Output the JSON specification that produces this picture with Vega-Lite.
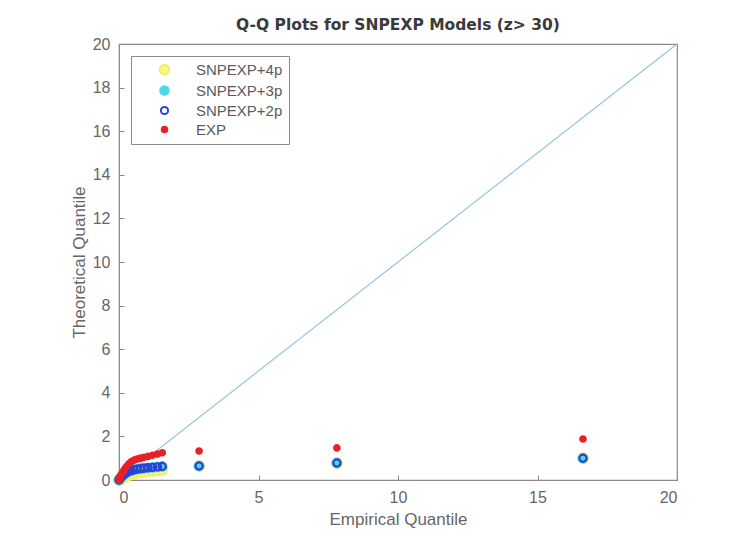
{
  "$schema": "https://vega.github.io/schema/vega-lite/v6.json",
  "width": 558,
  "height": 436,
  "autosize": "none",
  "padding": {"left": 119, "top": 44, "right": 74, "bottom": 62},
  "background": "white",
  "config": {
    "font": "Liberation Sans",
    "view": {"stroke": "#8a8a8a", "strokeWidth": 1.2},
    "axis": {
      "grid": false,
      "domainColor": "#8a8a8a",
      "tickColor": "#8a8a8a",
      "labelColor": "#666666",
      "titleColor": "#666666",
      "labelFontSize": 16,
      "titleFontSize": 17,
      "titleFontWeight": "normal",
      "labelFont": "Liberation Sans",
      "titleFont": "Liberation Sans"
    }
  },
  "title": {
    "text": "Q-Q Plots for SNPEXP Models (z> 30)",
    "font": "DejaVu Sans",
    "fontSize": 15.5,
    "fontWeight": "bold",
    "color": "#3a3a3a",
    "offset": 3,
    "anchor": "middle"
  },
  "datasets": {
    "diag": [{"x": 0, "y": 0}, {"x": 20, "y": 20}],
    "pts": [
      {"s": "SNPEXP+4p", "x": 0.0, "y": 0.0},
      {"s": "SNPEXP+4p", "x": 0.02, "y": 0.02},
      {"s": "SNPEXP+4p", "x": 0.05, "y": 0.05},
      {"s": "SNPEXP+4p", "x": 0.09, "y": 0.08},
      {"s": "SNPEXP+4p", "x": 0.14, "y": 0.11},
      {"s": "SNPEXP+4p", "x": 0.2, "y": 0.15},
      {"s": "SNPEXP+4p", "x": 0.27, "y": 0.19},
      {"s": "SNPEXP+4p", "x": 0.35, "y": 0.23},
      {"s": "SNPEXP+4p", "x": 0.44, "y": 0.27},
      {"s": "SNPEXP+4p", "x": 0.54, "y": 0.3},
      {"s": "SNPEXP+4p", "x": 0.65, "y": 0.33},
      {"s": "SNPEXP+4p", "x": 0.77, "y": 0.36},
      {"s": "SNPEXP+4p", "x": 0.9, "y": 0.38},
      {"s": "SNPEXP+4p", "x": 1.04, "y": 0.4},
      {"s": "SNPEXP+4p", "x": 1.2, "y": 0.42},
      {"s": "SNPEXP+4p", "x": 1.38, "y": 0.44},
      {"s": "SNPEXP+4p", "x": 1.55, "y": 0.46},
      {"s": "SNPEXP+4p", "x": 2.87, "y": 0.64},
      {"s": "SNPEXP+4p", "x": 7.81, "y": 0.78},
      {"s": "SNPEXP+4p", "x": 16.63, "y": 1.0},
      {"s": "SNPEXP+3p", "x": 0.0, "y": 0.0},
      {"s": "SNPEXP+3p", "x": 0.02, "y": 0.04},
      {"s": "SNPEXP+3p", "x": 0.05, "y": 0.09},
      {"s": "SNPEXP+3p", "x": 0.09, "y": 0.15},
      {"s": "SNPEXP+3p", "x": 0.14, "y": 0.21},
      {"s": "SNPEXP+3p", "x": 0.2, "y": 0.28},
      {"s": "SNPEXP+3p", "x": 0.27, "y": 0.34},
      {"s": "SNPEXP+3p", "x": 0.35, "y": 0.39},
      {"s": "SNPEXP+3p", "x": 0.44, "y": 0.43},
      {"s": "SNPEXP+3p", "x": 0.54, "y": 0.47},
      {"s": "SNPEXP+3p", "x": 0.65, "y": 0.5},
      {"s": "SNPEXP+3p", "x": 0.77, "y": 0.52},
      {"s": "SNPEXP+3p", "x": 0.9, "y": 0.54},
      {"s": "SNPEXP+3p", "x": 1.04, "y": 0.56},
      {"s": "SNPEXP+3p", "x": 1.2, "y": 0.58},
      {"s": "SNPEXP+3p", "x": 1.38, "y": 0.6},
      {"s": "SNPEXP+3p", "x": 1.55, "y": 0.62},
      {"s": "SNPEXP+3p", "x": 2.87, "y": 0.64},
      {"s": "SNPEXP+3p", "x": 7.81, "y": 0.78},
      {"s": "SNPEXP+3p", "x": 16.63, "y": 1.0},
      {"s": "SNPEXP+2p", "x": 0.0, "y": 0.0},
      {"s": "SNPEXP+2p", "x": 0.02, "y": 0.04},
      {"s": "SNPEXP+2p", "x": 0.05, "y": 0.09},
      {"s": "SNPEXP+2p", "x": 0.09, "y": 0.15},
      {"s": "SNPEXP+2p", "x": 0.14, "y": 0.21},
      {"s": "SNPEXP+2p", "x": 0.2, "y": 0.28},
      {"s": "SNPEXP+2p", "x": 0.27, "y": 0.34},
      {"s": "SNPEXP+2p", "x": 0.35, "y": 0.39},
      {"s": "SNPEXP+2p", "x": 0.44, "y": 0.43},
      {"s": "SNPEXP+2p", "x": 0.54, "y": 0.47},
      {"s": "SNPEXP+2p", "x": 0.65, "y": 0.5},
      {"s": "SNPEXP+2p", "x": 0.77, "y": 0.52},
      {"s": "SNPEXP+2p", "x": 0.9, "y": 0.54},
      {"s": "SNPEXP+2p", "x": 1.04, "y": 0.56},
      {"s": "SNPEXP+2p", "x": 1.2, "y": 0.58},
      {"s": "SNPEXP+2p", "x": 1.38, "y": 0.6},
      {"s": "SNPEXP+2p", "x": 1.55, "y": 0.62},
      {"s": "SNPEXP+2p", "x": 2.87, "y": 0.64},
      {"s": "SNPEXP+2p", "x": 7.81, "y": 0.78},
      {"s": "SNPEXP+2p", "x": 16.63, "y": 1.0},
      {"s": "EXP", "x": 0.0, "y": 0.0},
      {"s": "EXP", "x": 0.02, "y": 0.08},
      {"s": "EXP", "x": 0.05, "y": 0.17},
      {"s": "EXP", "x": 0.09, "y": 0.27},
      {"s": "EXP", "x": 0.14, "y": 0.38},
      {"s": "EXP", "x": 0.2, "y": 0.5},
      {"s": "EXP", "x": 0.27, "y": 0.62},
      {"s": "EXP", "x": 0.35, "y": 0.74},
      {"s": "EXP", "x": 0.44, "y": 0.84},
      {"s": "EXP", "x": 0.54, "y": 0.91},
      {"s": "EXP", "x": 0.65, "y": 0.96},
      {"s": "EXP", "x": 0.77, "y": 1.0},
      {"s": "EXP", "x": 0.9, "y": 1.04},
      {"s": "EXP", "x": 1.04, "y": 1.08},
      {"s": "EXP", "x": 1.2, "y": 1.13},
      {"s": "EXP", "x": 1.38, "y": 1.19},
      {"s": "EXP", "x": 1.55, "y": 1.25},
      {"s": "EXP", "x": 2.87, "y": 1.33},
      {"s": "EXP", "x": 7.81, "y": 1.47},
      {"s": "EXP", "x": 16.63, "y": 1.88}
    ]
  },
  "layer": [
    {
      "data": {"name": "diag"},
      "mark": {"type": "line", "color": "#94c4e0", "strokeWidth": 1.2},
      "encoding": {
        "x": {"field": "x", "type": "quantitative"},
        "y": {"field": "y", "type": "quantitative"}
      }
    },
    {
      "data": {"name": "pts"},
      "mark": {"type": "point", "shape": "circle", "strokeWidth": 2.2, "opacity": 1},
      "encoding": {
        "x": {
          "field": "x", "type": "quantitative",
          "scale": {"domain": [0, 20], "nice": false},
          "axis": {"values": [0, 5, 10, 15, 20], "title": "Empirical Quantile", "tickSize": -5, "labelPadding": 14, "titlePadding": 6}
        },
        "y": {
          "field": "y", "type": "quantitative",
          "scale": {"domain": [0, 20], "nice": false},
          "axis": {"values": [0, 2, 4, 6, 8, 10, 12, 14, 16, 18, 20], "title": "Theoretical Quantile", "tickSize": -5, "labelPadding": 14, "titlePadding": 4}
        },
        "stroke": {
          "field": "s", "type": "nominal",
          "scale": {"domain": ["SNPEXP+4p", "SNPEXP+3p", "SNPEXP+2p", "EXP"], "range": ["#f3f060", "#4fd8e8", "#2f3fd6", "#e8202a"]},
          "legend": {
            "title": null,
            "orient": "top-left",
            "offset": 12,
            "padding": 6,
            "strokeColor": "#8a8a8a",
            "fillColor": "white",
            "symbolOffset": 20,
            "labelOffset": 24,
            "labelFontSize": 15,
            "labelColor": "#5a5a5a",
            "rowPadding": 3,
            "symbolStrokeWidth": 2
          }
        },
        "fill": {
          "field": "s", "type": "nominal",
          "scale": {"domain": ["SNPEXP+4p", "SNPEXP+3p", "SNPEXP+2p", "EXP"], "range": ["#f8f590", "#4fd8e8", "transparent", "#e8202a"]}
        },
        "size": {
          "field": "s", "type": "nominal",
          "scale": {"domain": ["SNPEXP+4p", "SNPEXP+3p", "SNPEXP+2p", "EXP"], "range": [95, 30, 115, 55]}
        }
      }
    }
  ]
}
